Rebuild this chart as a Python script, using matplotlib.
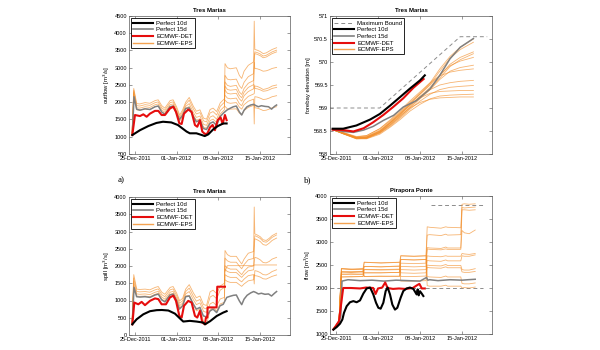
import matplotlib
matplotlib.use("Agg")
import matplotlib.pyplot as plt
import matplotlib.dates as mdates
from matplotlib.lines import Line2D
from datetime import datetime
import numpy as np

plt.rcParams['font.family'] = ['Liberation Sans', 'DejaVu Sans']

# ---------------- axis / label data ----------------
start_date = datetime(2011, 12, 24)
end_date = datetime(2012, 1, 20)
tick_dates = [datetime(2011, 12, 25), datetime(2012, 1, 1), datetime(2012, 1, 8), datetime(2012, 1, 15)]
legend_labels = ['Perfect 10d', 'Perfect 15d', 'ECMWF-DET', 'ECMWF-EPS']

# times are in days after 24-Dec-2011 00:00
# ---------------- Panel 1: outflow ----------------
out_p10_t = [0.56, 1.84, 3.24, 4.6, 5.7, 7.1, 8.2, 9.66, 10.2, 11.3, 12.2, 12.7, 13.3, 14.1, 14.9, 15.8, 16.37]
out_p10 = [1050, 1190, 1310, 1400, 1435, 1415, 1340, 1150, 1100, 1100, 1050, 1020, 1070, 1210, 1310, 1385, 1385]

p15_t = [0.56, 0.84, 1.28, 1.84, 2.68, 3.52, 4.36, 4.92, 5.47, 6.03, 6.87, 7.43, 7.99, 8.44, 9.0,
         9.5, 10.1, 10.8, 11.3, 11.9, 12.46, 13.0, 13.6, 14.1, 14.7, 15.25, 15.8, 16.4, 16.9, 17.5,
         18.0, 18.5, 18.9, 19.3, 19.8, 20.4, 20.9, 21.3, 21.7, 22.2, 22.8, 23.4, 23.9, 24.4, 24.75]
out_p15 = [1050, 2160, 1800, 1770, 1810, 1790, 1870, 1890, 1720, 1650, 1870, 1890, 1680, 1500, 1620,
           1820, 1840, 1580, 1435, 1480, 1240, 1210, 1390, 1430, 1330, 1580, 1680, 1770, 1820, 1870,
           1890, 1720, 1630, 1770, 1870, 1920, 1940, 1900, 1870, 1900, 1880, 1870, 1800, 1880, 1920]

out_det_t = [0.56, 1.0, 1.84, 2.4, 2.96, 3.52, 4.36, 4.92, 5.47, 6.03, 6.87, 7.43, 7.88, 8.44, 8.83, 9.22,
             9.94, 10.5, 11.06, 11.45, 11.9, 12.29, 12.74, 13.13, 13.58, 14.02, 14.41, 14.86, 15.36, 15.7,
             16.09, 16.37]
out_det = [1050, 1630, 1600, 1650, 1580, 1670, 1750, 1750, 1630, 1630, 1820, 1870, 1720, 1390, 1370, 1670,
           1790, 1720, 1340, 1290, 1480, 1150, 1080, 1090, 1270, 1340, 1190, 1480, 1560, 1370, 1630, 1480]

eps_t_full = [0.5, 0.8, 1.3, 1.8, 2.7, 3.5, 4.4, 4.9, 5.5, 6.0, 6.9, 7.4, 8.0, 8.5, 9.0, 9.5, 10.1, 10.8,
              11.3, 11.9, 12.5, 13.0, 13.6, 14.1, 14.7, 15.3, 16.0,
              16.1, 16.5, 17.0, 18.0, 18.5, 18.9, 19.3, 20.0, 20.9,
              21.0, 21.1, 21.5, 22.0, 22.5, 23.0, 23.5, 24.0, 24.75]
eps_t_late = [16.1, 16.5, 17.0, 18.0, 18.5, 18.9, 19.3, 20.0, 20.9,
              21.0, 21.1, 21.5, 22.0, 22.5, 23.0, 23.5, 24.0, 24.75]

out_eps_full = [
    [1050, 2400, 1960, 1950, 1990, 1970, 2050, 2070, 1900, 1830, 2050, 2070, 1860, 1630, 1780, 2000, 2140, 1880,
     1740, 1780, 1540, 1510, 1790, 1830, 1730, 1980, 2100,
     3120, 3000, 2970, 3000, 2780, 2690, 2900, 3070, 3170,
     4350, 3530, 3510, 3470, 3410, 3430, 3480, 3530, 3580],
    [1050, 2350, 1900, 1890, 1930, 1910, 1990, 2010, 1840, 1770, 1990, 2010, 1800, 1570, 1720, 1940, 2060, 1800,
     1660, 1700, 1460, 1430, 1690, 1730, 1630, 1880, 2000,
     2780, 2670, 2650, 2670, 2480, 2400, 2580, 2740, 2830,
     3300, 3460, 3440, 3400, 3340, 3360, 3410, 3460, 3510],
    [1050, 2300, 1840, 1830, 1870, 1850, 1930, 1950, 1780, 1710, 1930, 1950, 1740, 1510, 1660, 1880, 1960, 1700,
     1560, 1600, 1360, 1330, 1570, 1610, 1510, 1760, 1880,
     2590, 2490, 2460, 2490, 2300, 2225, 2400, 2550, 2630,
     3150, 2980, 2970, 2940, 2900, 2910, 2940, 2980, 3010],
    [1050, 2250, 1780, 1770, 1810, 1790, 1870, 1890, 1720, 1650, 1870, 1890, 1680, 1450, 1600, 1820, 1880, 1620,
     1480, 1520, 1280, 1250, 1470, 1510, 1410, 1660, 1780,
     2470, 2370, 2350, 2370, 2200, 2130, 2290, 2430, 2510,
     2500, 2400, 2390, 2360, 2320, 2330, 2360, 2400, 2430],
]
out_eps_late = [
    [2350, 2260, 2240, 2260, 2100, 2030, 2190, 2310, 2390, 3200, 3410, 3390, 3350, 3290, 3310, 3360, 3410, 3460],
    [2200, 2120, 2100, 2120, 1960, 1900, 2050, 2170, 2240, 2250, 2470, 2460, 2420, 2370, 2390, 2420, 2470, 2500],
    [2060, 1990, 1970, 1990, 1860, 1800, 1930, 2030, 2090, 1370, 2160, 2150, 2120, 2080, 2090, 2120, 2160, 2190],
    [1880, 1810, 1800, 1810, 1690, 1640, 1760, 1850, 1910, 1920, 1840, 1830, 1800, 1760, 1770, 1800, 1840, 1870],
]

# ---------------- Panel 2: forebay elevation ----------------
bound_t = [0.0, 8.3, 21.7, 26.2]
bound = [569.0, 569.0, 570.55, 570.55]
fb_p10_t = [0.44, 2.2, 4.4, 6.7, 8.3, 10.0, 11.7, 13.3, 15.0, 15.8]
fb_p10 = [568.55, 568.55, 568.62, 568.75, 568.87, 569.05, 569.24, 569.42, 569.60, 569.71]
fb_det_t = [0.44, 2.2, 3.9, 5.6, 7.2, 8.9, 10.6, 12.2, 13.9, 15.6]
fb_det = [568.53, 568.52, 568.49, 568.56, 568.69, 568.85, 569.03, 569.21, 569.44, 569.63]
fb_p15_t = [0.44, 2.2, 3.9, 5.6, 7.2, 8.9, 10.6, 12.2, 14.4, 16.7, 18.3, 20.0, 21.7, 23.9]
fb_p15 = [568.53, 568.49, 568.47, 568.52, 568.60, 568.73, 568.84, 569.02, 569.16, 569.42, 569.71, 570.07,
          570.32, 570.51]
fb_eps_t = [0.44, 2.2, 4.4, 6.1, 8.3, 10.0, 11.7, 13.3, 15.0, 16.7, 18.3, 20.0, 21.7, 23.9]
fb_eps = [
    [568.53, 568.47, 568.38, 568.40, 568.55, 568.72, 568.92, 569.12, 569.32, 569.55, 569.85, 570.12, 570.32, 570.50],
    [568.53, 568.46, 568.36, 568.37, 568.50, 568.68, 568.88, 569.08, 569.30, 569.52, 569.80, 570.08, 570.27, 570.43],
    [568.53, 568.45, 568.35, 568.36, 568.48, 568.66, 568.85, 569.05, 569.25, 569.45, 569.70, 569.95, 570.10, 570.22],
    [568.53, 568.44, 568.34, 568.35, 568.47, 568.63, 568.82, 569.02, 569.22, 569.42, 569.65, 569.90, 570.05, 570.18],
    [568.53, 568.45, 568.36, 568.38, 568.52, 568.70, 568.90, 569.10, 569.30, 569.50, 569.72, 569.92, 570.02, 570.10],
    [568.53, 568.44, 568.33, 568.34, 568.46, 568.62, 568.80, 569.00, 569.20, 569.40, 569.62, 569.80, 569.88, 569.93],
    [568.53, 568.46, 568.37, 568.40, 568.55, 568.74, 568.95, 569.15, 569.35, 569.55, 569.70, 569.78, 569.82, 569.85],
    [568.53, 568.45, 568.35, 568.36, 568.49, 568.67, 568.86, 569.06, 569.25, 569.40, 569.50, 569.55, 569.58, 569.60],
    [568.53, 568.44, 568.34, 568.34, 568.45, 568.60, 568.78, 568.97, 569.15, 569.30, 569.40, 569.45, 569.47, 569.49],
    [568.53, 568.45, 568.36, 568.37, 568.50, 568.68, 568.88, 569.07, 569.22, 569.32, 569.36, 569.37, 569.38, 569.38],
    [568.53, 568.44, 568.33, 568.33, 568.43, 568.58, 568.75, 568.93, 569.08, 569.20, 569.26, 569.28, 569.29, 569.30],
    [568.53, 568.45, 568.35, 568.35, 568.47, 568.64, 568.83, 569.00, 569.12, 569.19, 569.22, 569.23, 569.24, 569.24],
]

# ---------------- Panel 3: spill ----------------
sp_p10_t = [0.56, 1.28, 2.4, 3.52, 4.64, 5.5, 6.6, 7.7, 8.6, 9.1, 10.2, 11.3, 12.46, 12.74, 13.6, 14.7, 15.8, 16.37]
sp_p10 = [310, 456, 600, 690, 720, 725, 710, 620, 470, 390, 410, 390, 360, 310, 400, 550, 650, 690]
sp_p15 = [310, 1380, 1110, 1100, 1110, 1090, 1160, 1185, 1020, 960, 1160, 1185, 990, 750, 845,
          1110, 1130, 890, 750, 800, 555, 525, 700, 750, 650, 845, 890, 1090, 1120, 1150,
          1160, 990, 880, 1040, 1150, 1220, 1260, 1230, 1190, 1210, 1180, 1190, 1130, 1210, 1260]
sp_det_t = [0.56, 0.89, 1.56, 2.12, 2.68, 3.52, 4.36, 4.92, 5.47, 6.2, 6.87, 7.43, 7.88, 8.44, 8.83, 9.22,
            9.94, 10.5, 11.06, 11.45, 11.9, 12.29, 12.74, 12.9, 13.13, 13.18, 14.69, 14.8, 16.09]
sp_det = [310, 940, 890, 960, 865, 990, 1060, 1040, 890, 890, 1090, 1140, 990, 555, 505, 845,
          990, 940, 555, 505, 700, 360, 310, 505, 505, 800, 800, 1400, 1400]
sp_eps_full = [
    [310, 1750, 1330, 1320, 1330, 1310, 1380, 1405, 1240, 1180, 1380, 1405, 1210, 990, 1065, 1330, 1460, 1220,
     1080, 1130, 885, 855, 1250, 1300, 1200, 1420, 1500,
     2450, 2330, 2280, 2280, 2150, 2060, 2200, 2370, 2420,
     3710, 2930, 2900, 2850, 2760, 2740, 2800, 2880, 2950],
    [310, 1650, 1260, 1250, 1260, 1240, 1310, 1335, 1170, 1110, 1310, 1335, 1140, 920, 995, 1260, 1360, 1120,
     980, 1030, 785, 755, 1100, 1150, 1050, 1300, 1380,
     2230, 2150, 2110, 2110, 2000, 1920, 2040, 2180, 2220,
     2700, 2880, 2850, 2800, 2710, 2690, 2750, 2830, 2900],
    [310, 1550, 1190, 1180, 1190, 1170, 1240, 1265, 1100, 1040, 1240, 1265, 1070, 850, 925, 1190, 1260, 1020,
     880, 930, 685, 655, 900, 950, 850, 1045, 1090,
     2010, 1945, 1910, 1910, 1820, 1750, 1850, 1970, 2000,
     2500, 2790, 2760, 2710, 2620, 2600, 2660, 2740, 2810],
    [310, 1450, 1130, 1120, 1130, 1110, 1180, 1205, 1040, 980, 1180, 1205, 1010, 790, 865, 1130, 1150, 900,
     700, 750, 400, 300, 720, 800, 700, 900, 950,
     1750, 1700, 1670, 1670, 1590, 1540, 1620, 1720, 1750,
     1480, 1865, 1850, 1810, 1750, 1740, 1780, 1840, 1890],
]
sp_eps_late = [
    [1850, 2010, 2010, 2010, 2010, 2010, 2010, 2010, 2010, 2030, 2030, 2030, 2030, 2030, 2030, 2030, 2030, 2030],
    [1600, 1550, 1525, 1525, 1460, 1410, 1480, 1570, 1600, 1750, 1720, 1710, 1680, 1630, 1620, 1660, 1700, 1740],
    [1900, 1840, 1810, 1810, 1730, 1670, 1750, 1860, 1890, 2100, 2250, 2230, 2180, 2100, 2090, 2130, 2200, 2250],
]

# ---------------- Panel 4: flow at Pirapora Ponte ----------------
fl_lower_t = [0.0, 25.5]
fl_lower = [2000, 2000]
fl_upper_t = [16.8, 25.5]
fl_upper = [3800, 3800]
fl_p10_t = [0.56, 1.11, 1.67, 2.06, 2.33, 2.78, 3.33, 3.89, 4.44, 5.0, 5.56, 6.11, 6.67, 6.94, 7.22, 7.67,
            8.06, 8.44, 8.89, 9.28, 9.61, 10.0, 10.39, 10.83, 11.22, 11.78, 12.22, 12.78, 13.33, 13.89,
            14.44, 14.61, 14.78, 15.0, 15.28, 15.56]
fl_p10 = [1095, 1150, 1225, 1315, 1460, 1605, 1690, 1715, 1690, 1730, 1880, 1990, 2010, 1940, 1860, 1680,
          1570, 1550, 1680, 1935, 2010, 1860, 1640, 1530, 1570, 1790, 1935, 1990, 2010, 1980,
          1860, 1970, 1840, 1930, 1880, 1825]
fl_p15_t = [0.55, 1.4, 1.8, 2.0, 3.0, 5.0, 7.0, 9.0, 11.0, 13.0, 15.0, 16.1, 16.3, 16.6, 18.0, 20.0, 22.0,
            23.0, 24.2]
fl_p15 = [1100, 1200, 1390, 2150, 2180, 2160, 2170, 2150, 2170, 2160, 2150, 2230, 2170, 2180, 2160, 2180,
          2170, 2180, 2190]
fl_det_t = [0.55, 1.0, 1.5, 2.0, 2.2, 3.5, 5.0, 6.0, 7.2, 7.6, 8.0, 8.7, 9.2, 9.6, 10.5, 11.5, 12.5, 13.8,
            14.5, 14.9, 15.3, 15.8]
fl_det = [1100, 1180, 1280, 1800, 2000, 2000, 1990, 2010, 2000, 1870, 1990, 2010, 2120, 2000, 1980, 1990,
          1980, 2000, 2060, 2090, 1990, 1990]
fl_eps_t = [0.55, 1.5, 1.9, 3.5, 5.5, 5.7, 8.5, 11.6, 11.8, 14.0, 16.0, 16.2, 16.6, 18.5, 19.3, 19.6,
            21.8, 22.0, 22.4, 23.2, 24.2]
fl_eps = [
    [1100, 1280, 2420, 2400, 2420, 2560, 2540, 2560, 2700, 2690, 2700, 3330, 3320, 3300, 3330, 3320, 3310, 3820, 3830, 3820, 3830],
    [1100, 1280, 2350, 2340, 2360, 2470, 2460, 2480, 2620, 2610, 2620, 3150, 3160, 3140, 3170, 3150, 3160, 3750, 3740, 3750, 3760],
    [1100, 1280, 2300, 2290, 2300, 2400, 2390, 2400, 2540, 2530, 2540, 2880, 2870, 2860, 2890, 2870, 2870, 3700, 3700, 3690, 3700],
    [1100, 1280, 2240, 2250, 2250, 2330, 2330, 2340, 2470, 2460, 2470, 2850, 2840, 2830, 2850, 2840, 2840, 3250, 3200, 3180, 3260],
    [1100, 1280, 2420, 2410, 2400, 2250, 2260, 2250, 2400, 2390, 2400, 2700, 2690, 2680, 2700, 2690, 2690, 2750, 2740, 2730, 2750],
    [1100, 1280, 2350, 2360, 2350, 2560, 2550, 2560, 2330, 2320, 2330, 2600, 2590, 2580, 2610, 2590, 2590, 2700, 2690, 2690, 2720],
    [1100, 1280, 2300, 2310, 2300, 2470, 2460, 2470, 2250, 2250, 2260, 2500, 2490, 2480, 2510, 2490, 2490, 2400, 2390, 2390, 2420],
    [1100, 1280, 2240, 2240, 2250, 2400, 2400, 2410, 2150, 2150, 2160, 2450, 2440, 2430, 2460, 2440, 2440, 2350, 2340, 2340, 2360],
    [1100, 1280, 2420, 2410, 2420, 2330, 2330, 2340, 2700, 2690, 2700, 2250, 2240, 2230, 2260, 2240, 2240, 2100, 2090, 2090, 2110],
    [1100, 1280, 2350, 2340, 2350, 2250, 2250, 2260, 2620, 2610, 2620, 2050, 2040, 2040, 2060, 2040, 2040, 2000, 2010, 2000, 2020],
]

# ---------------- styling ----------------
C_BLACK = 'black'
C_GRAY = (0.5, 0.5, 0.5)
C_RED = (0.9, 0.05, 0.05)
C_EPS = (0.95, 0.55, 0.15)
C_BOUND = (0.55, 0.55, 0.55)
base = mdates.date2num(start_date)


def tx(t):
    return base + np.asarray(t, dtype=float)


def style(ax, ylim, ystep, ylabel, title):
    ax.set_xlim(start_date, end_date)
    ax.set_xticks(tick_dates)
    ax.xaxis.set_major_formatter(mdates.DateFormatter('%d-%b-%Y'))
    ax.set_ylim(*ylim)
    ax.set_yticks(np.arange(ylim[0], ylim[1] + ystep / 2, ystep))
    ax.tick_params(direction='in', top=True, right=True, length=2, width=0.4,
                   labelsize=4, pad=1.5, color='0.3')
    for s in ax.spines.values():
        s.set_linewidth(0.5)
        s.set_color('0.35')
    ax.set_ylabel(ylabel, fontsize=4.3, labelpad=2)
    ax.set_title(title, fontsize=4.3, fontweight='bold', pad=3)


def legend(ax, extra=None):
    hs = [Line2D([], [], color=C_BLACK, lw=1.5),
          Line2D([], [], color=C_GRAY, lw=1.2),
          Line2D([], [], color=C_RED, lw=1.5),
          Line2D([], [], color=C_EPS, lw=1.0, alpha=0.8)]
    labs = list(legend_labels)
    if extra is not None:
        hs = [extra[0]] + hs
        labs = [extra[1]] + labs
    lg = ax.legend(hs, labs, loc='upper left', fontsize=4.3, frameon=True, fancybox=False,
                   edgecolor='black', framealpha=1, borderpad=0.35, handlelength=3.2,
                   handletextpad=0.6, labelspacing=0.25, borderaxespad=0.4)
    lg.get_frame().set_linewidth(0.6)


def eps_lines(ax, tl, vals):
    for v in vals:
        ax.plot(tx(tl), v, color=C_EPS, lw=0.6, alpha=0.65)


fig = plt.figure(figsize=(6, 3.5), dpi=100)
ax1 = fig.add_axes([129 / 600, 1 - 154 / 350, 161 / 600, 138 / 350])
ax2 = fig.add_axes([330 / 600, 1 - 154 / 350, 162 / 600, 138 / 350])
ax3 = fig.add_axes([129 / 600, 1 - 335 / 350, 161 / 600, 138 / 350])
ax4 = fig.add_axes([330 / 600, 1 - 334 / 350, 162 / 600, 138 / 350])

# panel 1
eps_lines(ax1, eps_t_full, out_eps_full)
eps_lines(ax1, eps_t_late, out_eps_late)
ax1.plot(tx(p15_t), out_p15, color=C_GRAY, lw=1.1)
ax1.plot(tx(out_det_t), out_det, color=C_RED, lw=1.5)
ax1.plot(tx(out_p10_t), out_p10, color=C_BLACK, lw=1.5)
style(ax1, (500, 4500), 500, 'outflow [m$^3$/s]', 'Tres Marias')
legend(ax1)

# panel 2
ax2.plot(tx(bound_t), bound, color=C_BOUND, lw=0.7, ls=(0, (4, 3)))
eps_lines(ax2, fb_eps_t, fb_eps)
ax2.plot(tx(fb_p15_t), fb_p15, color=C_GRAY, lw=1.1)
ax2.plot(tx(fb_det_t), fb_det, color=C_RED, lw=1.5)
ax2.plot(tx(fb_p10_t), fb_p10, color=C_BLACK, lw=1.5)
style(ax2, (568, 571), 0.5, 'forebay elevation [m]', 'Tres Marias')
ax2.yaxis.set_major_formatter(matplotlib.ticker.FuncFormatter(lambda v, p: ('%g' % v)))
legend(ax2, extra=(Line2D([], [], color=C_BOUND, lw=0.7, ls=(0, (4, 3))), 'Maximum Bound'))

# panel 3
eps_lines(ax3, eps_t_full, sp_eps_full)
eps_lines(ax3, eps_t_late, sp_eps_late)
ax3.plot(tx(p15_t), sp_p15, color=C_GRAY, lw=1.1)
ax3.plot(tx(sp_det_t), sp_det, color=C_RED, lw=1.5)
ax3.plot(tx(sp_p10_t), sp_p10, color=C_BLACK, lw=1.5)
style(ax3, (0, 4000), 500, 'spill [m$^3$/s]', 'Tres Marias')
legend(ax3)

# panel 4
ax4.plot(tx(fl_lower_t), fl_lower, color=C_BOUND, lw=0.7, ls=(0, (4, 3)))
ax4.plot(tx(fl_upper_t), fl_upper, color=C_BOUND, lw=0.7, ls=(0, (4, 3)))
eps_lines(ax4, fl_eps_t, fl_eps)
ax4.plot(tx(fl_p15_t), fl_p15, color=C_GRAY, lw=1.1)
ax4.plot(tx(fl_det_t), fl_det, color=C_RED, lw=1.5)
ax4.plot(tx(fl_p10_t), fl_p10, color=C_BLACK, lw=1.5)
style(ax4, (1000, 4000), 500, 'flow [m$^3$/s]', 'Pirapora Ponte')
legend(ax4)

for ax in (ax2, ax4):
    for ln in ax.get_lines():
        ln.set_clip_on(False)

fig.text(118 / 600, 1 - 180 / 350, 'a)', family=['Liberation Serif', 'DejaVu Serif'], fontsize=6.5, va='center')
fig.text(304 / 600, 1 - 180 / 350, 'b)', family=['Liberation Serif', 'DejaVu Serif'], fontsize=6.5, va='center')

fig.savefig('out.png', dpi=100, facecolor='white')
